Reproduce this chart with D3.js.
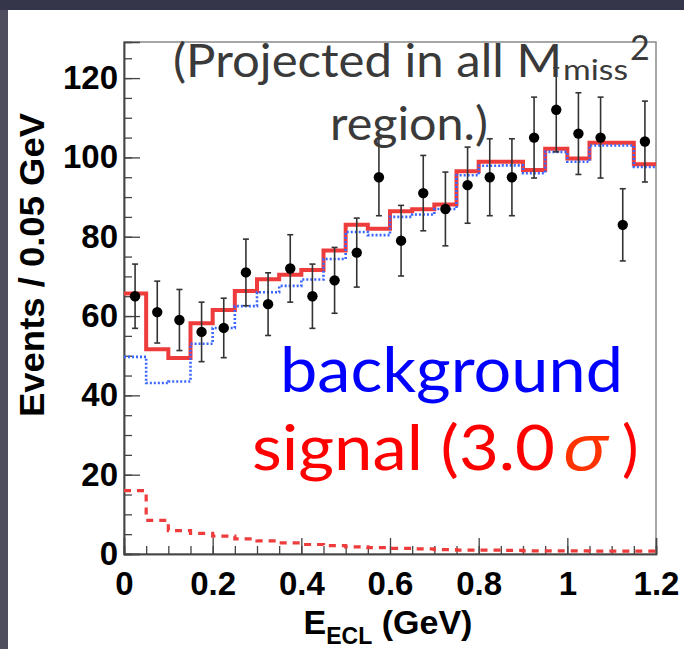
<!DOCTYPE html>
<html>
<head>
<meta charset="utf-8">
<script src="https://cdn.jsdelivr.net/npm/d3@7"></script>
<style>
  html, body { margin: 0; padding: 0; background: #36364a; }
  svg { display: block; }
</style>
</head>
<body>
<svg id="chart" width="684" height="649"></svg>
<script>
// ---------------- data ----------------
const binLow = [0, 0.05, 0.10, 0.15, 0.20, 0.25, 0.30, 0.35, 0.40, 0.45, 0.50, 0.55,
                0.60, 0.65, 0.70, 0.75, 0.80, 0.85, 0.90, 0.95, 1.00, 1.05, 1.10, 1.15];
const binWidth = 0.05;
const dataCounts = [65, 61, 59, 56, 57, 71, 63, 72, 65, 69, 76, 95,
                    79, 91, 87, 93, 95, 95, 105, 112, 106, 105, 83, 104];
const dataErrors = [8.1, 7.8, 7.7, 7.5, 7.5, 8.4, 7.9, 8.5, 8.1, 8.3, 8.7, 9.7,
                    8.9, 9.5, 9.3, 9.6, 9.7, 9.7, 10.2, 10.6, 10.3, 10.2, 9.1, 10.2];
const background = [49.7, 43.1, 43.5, 53.0, 57.0, 62.5, 66.0, 67.6, 69.2, 74.4, 81.2, 80.4,
                    85.0, 85.6, 87.0, 95.5, 97.9, 98.0, 96.0, 101.4, 98.9, 103.0, 103.0, 97.6];
const signal = [16, 8.5, 5.9, 5.2, 4.5, 3.8, 3.3, 2.8, 2.4, 2.1, 1.8, 1.6,
                1.4, 1.3, 1.1, 1.0, 1.0, 0.9, 0.8, 0.8, 0.8, 0.7, 0.7, 0.7];
const xTicks = [0, 0.2, 0.4, 0.6, 0.8, 1.0, 1.2];
const xTickLabels = ["0", "0.2", "0.4", "0.6", "0.8", "1", "1.2"];
const yTicks = [0, 20, 40, 60, 80, 100, 120];
const yTickLabels = ["0", "20", "40", "60", "80", "100", "120"];
const xDomain = [0, 1.2];
const yDomain = [0, 129.1];

// ---------------- layout ----------------
const svg = d3.select("#chart");
const W = 684, H = 649;
const plot = {left: 124, right: 656, top: 42, bottom: 554};

// slide background
svg.append("rect").attr("x", 0).attr("y", 0).attr("width", W).attr("height", H).attr("fill", "#36364a");
svg.append("rect").attr("x", 0).attr("y", 10).attr("width", 8).attr("height", H - 10).attr("fill", "#4e4e5e");
svg.append("rect").attr("x", 8).attr("y", 10).attr("width", W - 8).attr("height", H - 10).attr("fill", "#ffffff");

const x = d3.scaleLinear().domain(xDomain).range([plot.left, plot.right]);
const y = d3.scaleLinear().domain(yDomain).range([plot.bottom, plot.top]);

// frame
svg.append("rect")
  .attr("x", plot.left).attr("y", plot.top)
  .attr("width", plot.right - plot.left).attr("height", plot.bottom - plot.top)
  .attr("fill", "none").attr("stroke", "#8a8a8a").attr("stroke-width", 1.5);

// ---------------- axes ----------------
const xMinor = d3.range(0, 25).map(i => i * 0.05);  // tick positions every 0.05
const yMinor = d3.range(0, 26).map(i => i * 5);

const xAxisMinor = d3.axisBottom(x).tickValues(xMinor).tickSize(-8).tickFormat("");
const xAxisMajor = d3.axisBottom(x).tickValues(xTicks).tickSize(-16)
  .tickFormat((d, i) => xTickLabels[i]).tickPadding(22);
const yAxisMinor = d3.axisLeft(y).tickValues(yMinor.filter(v => v <= 129)).tickSize(-8).tickFormat("");
const yAxisMajor = d3.axisLeft(y).tickValues(yTicks).tickSize(-16)
  .tickFormat((d, i) => yTickLabels[i]).tickPadding(22);

function styleAxis(g) {
  g.select(".domain").attr("stroke", "#444").attr("stroke-width", 1.5);
  g.selectAll(".tick line").attr("stroke", "#444").attr("stroke-width", 1.3);
  g.selectAll("text").attr("fill", "#000")
    .style("font-family", "'Liberation Sans', Arial, Helvetica, sans-serif")
    .style("font-weight", "bold").style("font-size", "33px");
}
svg.append("g").attr("transform", `translate(0,${plot.bottom})`).call(xAxisMinor).call(styleAxis);
const gxM = svg.append("g").attr("transform", `translate(0,${plot.bottom})`).call(xAxisMajor).call(styleAxis);
gxM.selectAll(".tick text").attr("dy", null).attr("y", 41);
svg.append("g").attr("transform", `translate(${plot.left},0)`).call(yAxisMinor).call(styleAxis);
const gyM = svg.append("g").attr("transform", `translate(${plot.left},0)`).call(yAxisMajor).call(styleAxis);
gyM.selectAll(".tick text").attr("x", -6).attr("dy", "0.32em");

// ---------------- histograms ----------------
function stepPath(vals) {
  let p = "";
  vals.forEach((v, i) => {
    const x0 = x(binLow[i]), x1 = x(binLow[i] + binWidth), yy = y(v);
    p += (i === 0 ? "M" : "L") + x0 + "," + yy + "L" + x1 + "," + yy;
  });
  return p;
}
const total = background.map((b, i) => b + signal[i]);

svg.append("path").attr("d", stepPath(total))
  .attr("fill", "none").attr("stroke", "#ee3b3b").attr("stroke-width", 4);
svg.append("path").attr("d", stepPath(background))
  .attr("fill", "none").attr("stroke", "#3a66ff").attr("stroke-width", 2.6)
  .attr("stroke-dasharray", "2,2");
svg.append("path").attr("d", stepPath(signal))
  .attr("fill", "none").attr("stroke", "#ee3b3b").attr("stroke-width", 3.2)
  .attr("stroke-dasharray", "7,6");

// ---------------- data points ----------------
const pts = svg.append("g");
dataCounts.forEach((v, i) => {
  const cx = x(binLow[i] + binWidth / 2);
  const yt = y(v + dataErrors[i]), yb = y(v - dataErrors[i]);
  pts.append("line").attr("x1", cx).attr("x2", cx).attr("y1", yt).attr("y2", yb)
    .attr("stroke", "#333").attr("stroke-width", 1.6);
  pts.append("line").attr("x1", cx - 3).attr("x2", cx + 3).attr("y1", yt).attr("y2", yt)
    .attr("stroke", "#333").attr("stroke-width", 1.6);
  pts.append("line").attr("x1", cx - 3).attr("x2", cx + 3).attr("y1", yb).attr("y2", yb)
    .attr("stroke", "#333").attr("stroke-width", 1.6);
  pts.append("circle").attr("cx", cx).attr("cy", y(v)).attr("r", 5.2).attr("fill", "#000");
});

// ---------------- axis titles ----------------
const xt = svg.append("text").attr("x", 388).attr("y", 634)
  .attr("text-anchor", "middle")
  .style("font-family", "'Liberation Sans', Arial, Helvetica, sans-serif")
  .style("font-weight", "bold").style("font-size", "34px").attr("fill", "#000");
xt.append("tspan").text("E");
xt.append("tspan").attr("dy", 10).style("font-size", "23px").text("ECL");
xt.append("tspan").attr("dy", -10).text(" (GeV)");

svg.append("text")
  .attr("transform", "translate(44,265) rotate(-90)")
  .attr("text-anchor", "middle")
  .style("font-family", "'Liberation Sans', Arial, Helvetica, sans-serif")
  .style("font-weight", "bold").style("font-size", "35px").attr("fill", "#000")
  .attr("textLength", 304).attr("lengthAdjust", "spacingAndGlyphs")
  .text("Events / 0.05 GeV");

// ---------------- annotations ----------------
const gill = "Lato, 'Open Sans', 'Noto Sans', sans-serif";
svg.append("text").attr("x", 173).attr("y", 77)
  .style("font-family", gill).style("font-size", "46px").attr("fill", "#3a3a3a")
  .attr("textLength", 389).attr("lengthAdjust", "spacingAndGlyphs")
  .text("(Projected in all M");
svg.append("text").attr("x", 563).attr("y", 80)
  .style("font-family", gill).style("font-size", "29px").attr("fill", "#3a3a3a")
  .attr("textLength", 65).attr("lengthAdjust", "spacingAndGlyphs")
  .text("miss");
svg.append("text").attr("x", 630).attr("y", 60)
  .style("font-family", gill).style("font-size", "34px").attr("fill", "#3a3a3a")
  .text("2");
svg.append("text").attr("x", 330).attr("y", 140)
  .style("font-family", gill).style("font-size", "46px").attr("fill", "#3a3a3a")
  .attr("textLength", 158).attr("lengthAdjust", "spacingAndGlyphs")
  .text("region.)");

svg.append("text").attr("x", 280).attr("y", 392)
  .style("font-family", gill).style("font-size", "62px").attr("fill", "#0000ff")
  .attr("textLength", 343).attr("lengthAdjust", "spacingAndGlyphs")
  .text("background");
svg.append("text").attr("x", 252).attr("y", 470)
  .style("font-family", gill).style("font-size", "62px").attr("fill", "#ff0000")
  .attr("textLength", 303).attr("lengthAdjust", "spacingAndGlyphs")
  .text("signal (3.0");
svg.append("text").attr("x", 562).attr("y", 470)
  .style("font-family", "'Open Sans', 'DejaVu Sans', sans-serif").style("font-style", "italic")
  .style("font-size", "64px").attr("fill", "#ff3300")
  .attr("textLength", 46).attr("lengthAdjust", "spacingAndGlyphs")
  .text("σ");
svg.append("text").attr("x", 622).attr("y", 470)
  .style("font-family", gill).style("font-size", "62px").attr("fill", "#ff0000")
  .text(")");
</script>
</body>
</html>
